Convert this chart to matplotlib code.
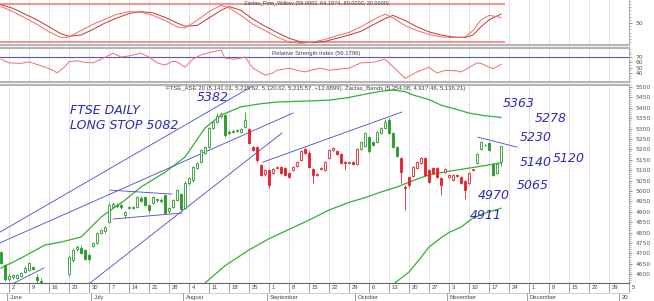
import numpy as np
import pandas as pd
import matplotlib
matplotlib.use("Agg")
import matplotlib.pyplot as plt
from matplotlib.patches import Rectangle
from matplotlib.ticker import MultipleLocator

# daily candles, index 0 = 29 May
opens = [4706, 4643, 4578, 4588, 4582, 4590, 4610, 4620, 4634, 4585,
         4565, 4540, 4510, 4490, 4470, 4495, 4520, 4600, 4668, 4720,
         4726, 4716, 4692, 4735, 4750, 4800, 4808, 4850, 4925, 4932,
         4932, 4884, 4920, 4920, 4922, 4965, 4970, 4932, 4942, 4955,
         4958, 4980, 4905, 4925, 4956, 4985, 4920, 5040, 5052, 5110,
         5140, 5185, 5210, 5305, 5330, 5360, 5365, 5285, 5283, 5290,
         5285, 5310, 5300, 5210, 5212, 5125, 5080, 5101, 5085, 5110,
         5115, 5110, 5085, 5100, 5120, 5150, 5200, 5185, 5105, 5078,
         5108, 5100, 5160, 5195, 5190, 5180, 5140, 5133, 5140, 5130,
         5200, 5215, 5260, 5235, 5235, 5280, 5305, 5340, 5280, 5210,
         5160, 5020, 5065, 5070, 5110, 5135, 5160, 5100, 5110, 5110,
         5060, 5090, 5065, 5055, 5075, 5065, 5050, 5040, 5100, 5135,
         5200, 5220, 5230, 5130, 5085, 5141.01]
highs = [4712, 4648, 4598, 4602, 4600, 4612, 4640, 4660, 4640, 4600,
         4580, 4550, 4525, 4505, 4500, 4530, 4560, 4690, 4725, 4740,
         4740, 4722, 4700, 4756, 4802, 4818, 4830, 4940, 4945, 4942,
         4940, 4905, 4930, 4930, 4978, 4975, 4978, 4938, 4975, 4968,
         4965, 4986, 4925, 4962, 5010, 4992, 5048, 5065, 5120, 5140,
         5202, 5215, 5310, 5335, 5375, 5382, 5370, 5292, 5296, 5300,
         5305, 5380, 5305, 5218, 5216, 5130, 5105, 5108, 5110, 5120,
         5120, 5114, 5090, 5120, 5145, 5195, 5210, 5190, 5110, 5088,
         5115, 5145, 5200, 5212, 5196, 5185, 5145, 5140, 5145, 5205,
         5240, 5285, 5265, 5240, 5290, 5310, 5345, 5350, 5285, 5215,
         5165, 5030, 5070, 5120, 5145, 5165, 5165, 5105, 5115, 5115,
         5065, 5110, 5080, 5082, 5080, 5070, 5055, 5090, 5108, 5185,
         5240, 5226, 5235, 5135, 5135, 5215.62]
lows = [4650, 4565, 4568, 4575, 4575, 4585, 4605, 4615, 4620, 4555,
        4540, 4500, 4480, 4460, 4455, 4485, 4510, 4590, 4660, 4712,
        4698, 4668, 4665, 4728, 4745, 4795, 4800, 4845, 4918, 4920,
        4915, 4868, 4912, 4912, 4918, 4945, 4928, 4895, 4935, 4948,
        4942, 4888, 4895, 4918, 4950, 4905, 4912, 5030, 5045, 5105,
        5135, 5180, 5205, 5298, 5325, 5352, 5262, 5272, 5278, 5285,
        5280, 5305, 5225, 5190, 5140, 5070, 5072, 5014, 5080, 5105,
        5080, 5070, 5060, 5095, 5115, 5145, 5180, 5110, 5040, 5070,
        5100, 5095, 5155, 5190, 5175, 5130, 5100, 5128, 5125, 5125,
        5195, 5210, 5185, 5215, 5230, 5275, 5300, 5275, 5205, 5165,
        5040, 4908, 5020, 5065, 5105, 5130, 5070, 5040, 5080, 5060,
        4980, 5085, 5060, 5050, 5065, 5035, 4960, 5035, 5095, 5130,
        5195, 5215, 5190, 5070, 5080, 5120.62]
closes = [4653, 4576, 4590, 4595, 4596, 4606, 4630, 4653, 4625, 4570,
          4548, 4510, 4490, 4470, 4495, 4520, 4552, 4682, 4716, 4730,
          4702, 4673, 4673, 4750, 4797, 4812, 4825, 4932, 4935, 4928,
          4922, 4898, 4925, 4925, 4970, 4950, 4932, 4908, 4970, 4962,
          4950, 4894, 4920, 4956, 5004, 4915, 5040, 5060, 5115, 5135,
          5197, 5210, 5305, 5330, 5360, 5372, 5270, 5280, 5290, 5295,
          5300, 5340, 5230, 5197, 5150, 5077, 5100, 5028, 5105, 5115,
          5085, 5077, 5067, 5115, 5140, 5190, 5185, 5115, 5075, 5082,
          5112, 5140, 5195, 5205, 5180, 5135, 5135, 5137, 5130, 5200,
          5235, 5280, 5190, 5220, 5285, 5305, 5330, 5280, 5210, 5170,
          5090, 5015, 5028, 5115, 5140, 5160, 5077, 5045, 5085, 5065,
          5030, 5105, 5075, 5077, 5070, 5040, 5004, 5085, 5105, 5180,
          5235, 5222, 5197, 5077, 5130, 5215.57]
# colour regimes (first index, last index, colour)
regimes = [(0, 61, "g"), (62, 89, "r"), (90, 99, "g"), (100, 118, "r"), (119, 125, "g")]

# Zaclas bands
upper_idx = [0, 5, 11, 15, 20, 25, 31, 35, 41, 46, 51, 55, 60, 65, 69, 75, 82, 87, 91, 95, 98, 101, 103, 107, 110, 114, 117, 121, 125]
upper_val = [4629, 4677, 4740, 4754, 4778, 4874, 4956, 5019, 5090, 5163, 5303, 5365, 5405, 5420, 5428, 5432, 5437, 5450, 5466, 5480, 5486, 5478, 5462, 5440, 5413, 5392, 5375, 5362, 5354]
mid_idx = [48, 51, 56, 62, 67, 72, 77, 82, 87, 91, 95, 99, 103, 107, 112, 117, 121, 125]
mid_val = [4500, 4557, 4640, 4716, 4770, 4815, 4860, 4908, 4945, 4968, 4995, 5019, 5050, 5077, 5095, 5110, 5122, 5136]
lower_idx = [96, 98, 100, 102, 105, 107, 110, 112, 115, 118, 121, 125]
lower_val = [4500, 4550, 4580, 4610, 4680, 4730, 4775, 4800, 4826, 4870, 4893, 4917]

# Pete Wilbov oscillator
stoch_idx = [0, 3, 6, 9, 12, 15, 17, 20, 23, 26, 29, 32, 35, 38, 41, 44, 46, 49, 52, 55, 57, 60, 63, 66, 69, 72, 75, 78, 81, 84, 87, 90, 93, 96, 98, 101, 104, 107, 110, 113, 116, 118, 120, 122, 124, 125]
stoch_k = [76, 68, 58, 48, 36, 27, 28, 38, 48, 56, 64, 68, 67, 62, 54, 44, 42, 54, 68, 78, 74, 62, 48, 38, 28, 20, 18, 20, 24, 30, 35, 44, 55, 64, 58, 46, 38, 32, 28, 27, 28, 38, 55, 62, 60, 58.9]
stoch_d = [79, 73, 64, 55, 44, 33, 29, 31, 40, 50, 58, 65, 68, 66, 59, 50, 45, 46, 58, 70, 76, 70, 56, 45, 35, 26, 20, 19, 21, 26, 31, 37, 47, 57, 62, 54, 44, 36, 31, 28, 27, 31, 44, 55, 61, 64.2]

# RSI
rsi_idx = [0, 2, 5, 7, 9, 11, 13, 14, 16, 17, 19, 21, 23, 25, 28, 30, 32, 35, 37, 39, 41, 43, 44, 46, 48, 50, 53, 55, 56, 58, 60, 61, 63, 66, 68, 69, 72, 74, 76, 78, 80, 82, 84, 87, 90, 93, 95, 96, 97, 99, 101, 103, 104, 107, 108, 109, 111, 114, 115, 117, 119, 120, 122, 123, 125]
rsi_val = [66, 59, 58, 61, 56, 51, 45, 40, 52, 61, 63, 60, 59, 66, 77, 70, 72, 77, 70, 59, 55, 62, 61, 51, 66, 74, 80, 83, 68, 66, 68, 70, 49, 36, 40, 45, 49, 45, 42, 46, 49, 45, 47, 49, 59, 60, 64, 66, 59, 45, 30, 38, 42, 51, 45, 40, 45, 44, 42, 50, 59, 58, 51, 48, 56.18]

# hand drawn trend lines ((i0, p0), (i1, p1))
trend_lines = [((-0.25, 4802), (65.5, 5534)),
               ((-0.25, 4750), (73, 5375)),
               ((22.25, 4557), (70.25, 5279)),
               ((3.25, 4557), (10.75, 4629)),
               ((27.25, 5004), (42.75, 4985)),
               ((28, 4865), (45.25, 4894)),
               ((65.5, 5139), (100.25, 5380)),
               ((119.25, 5259), (129, 5211))]
notes = [("FTSE DAILY", 17.25, 5389), ("LONG STOP 5082", 17.25, 5317),
         ("5382", 49, 5452), ("5363", 125.5, 5423), ("5278", 133.5, 5351),
         ("5230", 129.75, 5255), ("5140", 129.75, 5139), ("5120", 138, 5158),
         ("5065", 129, 5028), ("4970", 119.25, 4980), ("4911", 117.25, 4884)]

days = pd.bdate_range("2014-05-29", periods=158)
mondays = [i for i, d in enumerate(days) if d.weekday() == 0]
month_first = [i for i in range(1, len(days)) if days[i].month != days[i - 1].month]

W, H = 654, 301
def box(x0, y0, x1, y1):
    return [x0 / W, 1 - y1 / H, (x1 - x0) / W, (y1 - y0) / H]

fig = plt.figure(figsize=(6.54, 3.01), dpi=100)
ax_st = fig.add_axes(box(0, 0, 629, 45))
ax_rsi = fig.add_axes(box(0, 48, 629, 82))
ax = fig.add_axes(box(0, 85, 629, 283))

GREEN = "#2a9a2a"
RED = "#e8202a"
BAND = "#33b033"
BLUE = "#4a4ac8"
INK = "#2b2bb8"
XMIN, XMAX = -0.25, 157

for a in (ax_st, ax_rsi, ax):
    a.set_xlim(XMIN, XMAX)
    a.set_xticks(mondays)
    a.grid(axis="x", color="#dcdcdc", lw=0.6)
    a.set_axisbelow(True)
    a.yaxis.tick_right()
    a.tick_params(axis="y", labelsize=4.3, labelcolor="#555555", length=2, width=0.5, color="#666666", pad=3)
    a.tick_params(axis="y", which="minor", length=1.2, width=0.4, color="#888888")
    a.tick_params(axis="x", length=0, labelbottom=False)
    a.spines["left"].set_visible(False)
    a.spines["right"].set_color("#999999")
    a.spines["right"].set_linewidth(0.6)
    a.spines["top"].set_color("#b5b5b5")
    a.spines["bottom"].set_color("#b5b5b5")
    a.spines["top"].set_linewidth(1.5)
    a.spines["bottom"].set_linewidth(1.5)
ax_st.spines["top"].set_visible(False)
ax.spines["bottom"].set_color("#666666")
ax.spines["bottom"].set_linewidth(0.8)

# oscillator panel
ax_st.set_ylim(15.3, 86.3)
ax_st.set_yticks([50])
ax_st.yaxis.set_minor_locator(MultipleLocator(5))
ax_st.hlines([80, 20], XMIN, 126, color="#f08080", lw=1.2)
ax_st.plot(stoch_idx, stoch_d, color="#c0392b", lw=0.7)
ax_st.plot(stoch_idx, stoch_k, color="#f06a6a", lw=0.7)
ax_st.text(157.5 / 2, 80.5, "Zaclas_Pete_Wilbov (58.9082, 64.1874, 80.0000, 20.0000)",
           ha="center", va="center", fontsize=4.0, color="#444444", family="Liberation Sans")

# RSI panel
ax_rsi.set_ylim(23.1, 86.9)
ax_rsi.set_yticks([40, 50, 60, 70])
ax_rsi.yaxis.set_minor_locator(MultipleLocator(5))
ax_rsi.axhline(70, color="#5555bb", lw=0.8)
ax_rsi.plot(rsi_idx, rsi_val, color="#ee7070", lw=0.7)
ax_rsi.text(157.5 / 2, 77, "Relative Strength Index (56.1796)",
            ha="center", va="center", fontsize=4.2, color="#444444", family="Liberation Sans")

# price panel
ax.set_ylim(4557, 5510)
ax.set_yticks(np.arange(4600, 5501, 50))
ax.yaxis.set_minor_locator(MultipleLocator(10))
ax.text(157.5 / 2, 5495, "FTSE_ASE 20 (5,141.01, 5,215.62, 5,120.62, 5,215.57, +12.6899), "
        "Zaclas_Bands (5,354.08, 4,917.46, 5,136.21)",
        ha="center", va="center", fontsize=4.3, color="#444444", family="Liberation Sans")

ax.plot(upper_idx, upper_val, color=BAND, lw=0.9)
ax.plot(mid_idx, mid_val, color=BAND, lw=0.9)
ax.plot(lower_idx, lower_val, color=BAND, lw=0.9)

for (x0, y0), (x1, y1) in trend_lines:
    ax.plot([x0, x1], [y0, y1], color=BLUE, lw=0.6)

cols = {}
for s, e, c in regimes:
    for i in range(s, e + 1):
        cols[i] = GREEN if c == "g" else RED
w = 0.62
for i in range(len(opens)):
    o, h, l, c = opens[i], highs[i], lows[i], closes[i]
    col = cols[i]
    ax.vlines(i, l, h, color=col, lw=0.6, zorder=3)
    if c >= o:
        ax.add_patch(Rectangle((i - w / 2, o), w, max(c - o, 1.5), facecolor="white",
                               edgecolor=col, lw=0.6, zorder=4))
    else:
        ax.add_patch(Rectangle((i - w / 2, c), w, o - c, facecolor=col,
                               edgecolor=col, lw=0.6, zorder=4))

for txt, x, y in notes:
    ax.text(x, y, txt, fontsize=9, color=INK, style="italic", ha="left", va="center",
            family="DejaVu Sans")

# date axis
tr = ax.get_xaxis_transform()
for i in mondays:
    ax.plot([i, i], [0, -0.045], transform=tr, color="#777777", lw=0.5, clip_on=False)
    ax.text(i + 0.6, -0.022, str(days[i].day), transform=tr, fontsize=4.2,
            color="#444444", ha="left", va="center", family="Liberation Sans")
for i in month_first:
    ax.plot([i - 0.5, i - 0.5], [-0.05, -0.095], transform=tr, color="#777777", lw=0.5, clip_on=False)
    lab = days[i].strftime("%B") if days[i].month != 1 else "20"
    ax.text(i + 0.2, -0.072, lab, transform=tr, fontsize=4.2, color="#444444",
            ha="left", va="center", family="Liberation Sans")
ax.plot([XMIN, XMAX], [-0.05, -0.05], transform=tr, color="#aaaaaa", lw=0.4, clip_on=False)

fig.savefig("out.png", dpi=100)
